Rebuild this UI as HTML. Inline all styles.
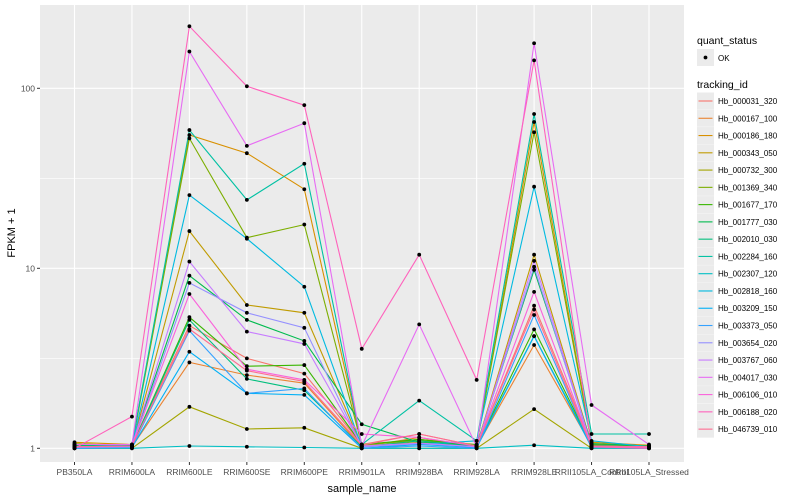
<!DOCTYPE html>
<html><head><meta charset="utf-8">
<style>
body{margin:0;background:#fff;}
svg{display:block;font-family:"Liberation Sans",sans-serif;}
</style></head>
<body>
<svg id="chart" width="800" height="500" viewBox="0 0 800 500" xmlns="http://www.w3.org/2000/svg">
<rect x="0" y="0" width="800" height="500" fill="#fff"/>
<rect x="40" y="5" width="644" height="457" fill="#EBEBEB"/>
<g id="grid"></g>
<g id="series"></g>
<g id="axes"></g>
<g id="legend"></g>
</svg>
<script>
const categories=["PB350LA","RRIM600LA","RRIM600LE","RRIM600SE","RRIM600PE","RRIM901LA","RRIM928BA","RRIM928LA","RRIM928LE","RRII105LA_Control","RRII105LA_Stressed"];
const seriesNames=["Hb_000031_320","Hb_000167_100","Hb_000186_180","Hb_000343_050","Hb_000732_300","Hb_001369_340","Hb_001677_170","Hb_001777_030","Hb_002010_030","Hb_002284_160","Hb_002307_120","Hb_002818_160","Hb_003209_150","Hb_003373_050","Hb_003654_020","Hb_003767_060","Hb_004017_030","Hb_006106_010","Hb_006188_020","Hb_046739_010"];
const seriesColors=["#F8766D","#EA8331","#D89000","#C09B00","#A3A500","#7CAE00","#39B600","#00BB4E","#00BF7D","#00C1A3","#00BFC4","#00BAE0","#00B0F6","#35A2FF","#9590FF","#C77CFF","#E76BF3","#FA62DB","#FF62BC","#FF6C91"];
const s01=[1.05,1.04,4.8,3.16,2.6,1.05,1.2,1.03,6.2,1.05,1.02];
const s02=[1.03,1.02,3.0,2.55,2.3,1.02,1.15,1.02,3.75,1.03,1.02];
const s03=[1.08,1.05,55,43.6,27.5,1.05,1.1,1.04,65,1.08,1.04];
const s04=[1.02,1.02,16.1,6.25,5.66,1.03,1.08,1.03,11.9,1.05,1.03];
const s05=[1.0,1.0,1.7,1.28,1.3,1.0,1.0,1.0,1.65,1.0,1.0];
const s06=[1.06,1.03,52.7,14.8,17.5,1.04,1.12,1.05,57,1.06,1.03];
const s07=[1.02,1.03,5.35,2.86,2.9,1.05,1.12,1.03,4.58,1.04,1.02];
const s08=[1.04,1.04,9.1,5.17,3.95,1.36,1.08,1.04,9.8,1.06,1.03];
const s09=[1.03,1.03,5.17,2.43,2.1,1.02,1.1,1.02,4.2,1.03,1.02];
const s10=[1.02,1.05,58.6,24.0,38.1,1.05,1.84,1.1,72,1.2,1.2];
const s11=[1.0,1.0,1.03,1.02,1.01,1.0,1.0,1.0,1.04,1.0,1.0];
const s12=[1.01,1.02,25.5,14.6,7.9,1.02,1.05,1.1,28.4,1.1,1.02];
const s13=[1.01,1.01,3.44,2.02,1.98,1.0,1.05,1.01,4.2,1.01,1.01];
const s14=[1.0,1.01,4.5,2.02,2.15,1.0,1.03,1.0,5.5,1.01,1.0];
const s15=[1.01,1.02,8.3,5.66,4.67,1.02,1.06,1.02,10.2,1.02,1.01];
const s16=[1.02,1.03,10.9,4.45,3.8,1.03,1.07,1.02,11,1.03,1.02];
const s17=[1.05,1.05,160,47.9,64,1.03,4.88,1.02,178,1.74,1.05];
const s18=[1.02,1.03,7.2,2.75,2.4,1.2,1.15,1.03,7.4,1.03,1.02];
const s19=[1.0,1.5,221,102.6,80.6,3.57,11.9,2.4,143,1.02,1.0];
const s20=[1.02,1.03,4.6,2.7,2.35,1.04,1.2,1.03,5.9,1.02,1.02];
const seriesValues=[s01,s02,s03,s04,s05,s06,s07,s08,s09,s10,s11,s12,s13,s14,s15,s16,s17,s18,s19,s20];
const yTicks=[1,10,100];
const yMinor=[3.1623,31.623];

const NS="http://www.w3.org/2000/svg";
const xScale=i=>74.5+57.45*i;
const yScale=v=>448.3-180*Math.log10(v);
function mk(tag,attrs,parent){const e=document.createElementNS(NS,tag);for(const k in attrs)e.setAttribute(k,attrs[k]);parent.appendChild(e);return e;}
const grid=document.getElementById('grid'),ser=document.getElementById('series'),axes=document.getElementById('axes'),leg=document.getElementById('legend');

yMinor.forEach(v=>{const l=mk('line',{x1:40,x2:684,y1:yScale(v),y2:yScale(v),stroke:'#fff','stroke-width':0.55},grid);

});
yTicks.forEach(v=>{const l=mk('line',{x1:40,x2:684,y1:yScale(v),y2:yScale(v),stroke:'#fff','stroke-width':1.1},grid);


const t=mk('text',{x:35,y:yScale(v)+3,'text-anchor':'end','font-size':8.5,fill:'#4d4d4d'},axes);t.textContent=v;


mk('line',{x1:37,x2:40,y1:yScale(v),y2:yScale(v),stroke:'#333','stroke-width':1},axes);});
categories.forEach((c,i)=>{const l=mk('line',{x1:xScale(i),x2:xScale(i),y1:5,y2:462,stroke:'#fff','stroke-width':1.1},grid);


mk('line',{x1:xScale(i),x2:xScale(i),y1:462,y2:465,stroke:'#333','stroke-width':1},axes);
const t=mk('text',{x:xScale(i),y:475,'text-anchor':'middle','font-size':8.5,fill:'#4d4d4d'},axes);t.textContent=c;

});

seriesValues.forEach((vals,si)=>{
 const pts=vals.map((v,i)=>xScale(i).toFixed(1)+','+yScale(v).toFixed(1)).join(' ');
 const pl=mk('polyline',{points:pts,fill:'none',stroke:seriesColors[si],'stroke-width':1.1},ser);
 
 
});
seriesValues.forEach((vals,si)=>{vals.forEach((v,i)=>{
 const c=mk('circle',{cx:xScale(i),cy:yScale(v),r:1.9,fill:'#000'},ser);
 
 
});});

let t=mk('text',{x:362,y:492,'text-anchor':'middle','font-size':11,fill:'#000'},axes);t.textContent='sample_name';


t=mk('text',{x:0,y:0,'text-anchor':'middle','font-size':11,fill:'#000',transform:'translate(15,233) rotate(-90)'},axes);t.textContent='FPKM + 1';



t=mk('text',{x:697,y:44,'font-size':10.5,fill:'#000'},leg);t.textContent='quant_status';


mk('rect',{x:697,y:49,width:17,height:17,fill:'#EBEBEB'},leg);
mk('circle',{cx:705.5,cy:57.5,r:1.9,fill:'#000'},leg);
t=mk('text',{x:718,y:61,'font-size':8,fill:'#000'},leg);t.textContent='OK';


t=mk('text',{x:697,y:88,'font-size':10.5,fill:'#000'},leg);t.textContent='tracking_id';


seriesNames.forEach((n,i)=>{const y=92.5+17.27*i;
 mk('rect',{x:697,y:y,width:17,height:17,fill:'#EBEBEB'},leg);
 mk('line',{x1:698.5,x2:712.5,y1:y+8.5,y2:y+8.5,stroke:seriesColors[i],'stroke-width':1.1},leg);
 const tt=mk('text',{x:718,y:y+11.5,'font-size':8,fill:'#000'},leg);tt.textContent=n;
 
 
});
</script>
</body></html>
